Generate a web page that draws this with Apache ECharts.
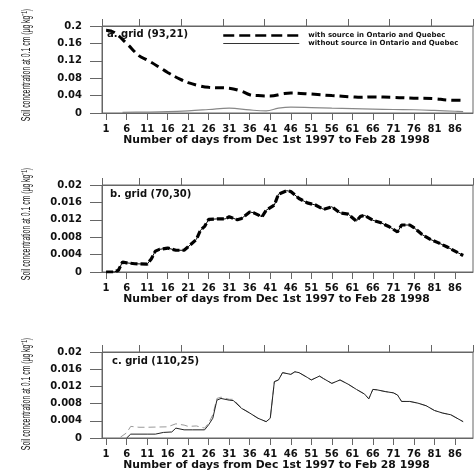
<!DOCTYPE html>
<html><head><meta charset="utf-8">
<script src="https://cdn.jsdelivr.net/npm/echarts@6/dist/echarts.min.js"></script>
<style>html,body{margin:0;padding:0;background:#fff}#c{width:474px;height:475px}</style>
</head><body><div id="c"></div><script>
// ---- data ----
const xTickDays = [1, 6, 11, 16, 21, 26, 31, 36, 41, 46, 51, 56, 61, 66, 71, 76, 81, 86];
const seriesNames = ['with source in Ontario and Quebec', 'without source in Ontario and Quebec'];
const panelTitles = ['a. grid (93,21)', 'b. grid (70,30)', 'c. grid (110,25)'];
const yAxisTitle = 'Soil concentration at 0.1 cm (µg kg⁻¹)';
const xAxisTitle = 'Number of days from Dec 1st 1997 to Feb 28 1998';
const yMaxes = [0.2, 0.02, 0.02];
const yIntervals = [0.04, 0.004, 0.004];

// panel a
const aDaysWith = [1, 3, 6, 9, 11, 14, 16, 19, 21, 24, 26, 31, 34, 36, 38, 41, 44, 46, 51, 56, 61, 63, 66, 71, 76, 81, 84, 88];
const aWith = [0.19, 0.185, 0.16, 0.132, 0.122, 0.105, 0.093, 0.078, 0.07, 0.062, 0.059, 0.057, 0.05, 0.042, 0.04, 0.039, 0.044, 0.046, 0.0435, 0.04, 0.037, 0.036, 0.037, 0.036, 0.034, 0.033, 0.03, 0.029];
const aDaysWithout = [5, 10, 16, 21, 26, 31, 36, 40, 43, 46, 51, 56, 61, 66, 71, 76, 81, 86, 88];
const aWithout = [0.0015, 0.002, 0.003, 0.005, 0.008, 0.0112, 0.007, 0.005, 0.011, 0.0135, 0.0125, 0.0112, 0.01, 0.009, 0.008, 0.0075, 0.006, 0.004, 0.003];

// panel b (both runs overlap)
const bDays = [1, 3, 4, 5, 6, 8, 11, 12, 13, 14, 16, 18, 20, 21, 23, 24, 25, 26, 28, 30, 31, 33, 34, 36, 37, 39, 40, 42, 43, 45, 46, 48, 50, 52, 54, 56, 58, 60, 62, 63, 64, 66, 68, 70, 72, 73, 75, 76, 78, 80, 82, 84, 86, 88];
const bValues = [0, 0, 0.0004, 0.0023, 0.0021, 0.0019, 0.0018, 0.003, 0.0048, 0.0052, 0.0055, 0.005, 0.005, 0.0058, 0.0075, 0.0096, 0.0105, 0.0121, 0.0122, 0.0122, 0.0127, 0.012, 0.0123, 0.0138, 0.0136, 0.0127, 0.0142, 0.0154, 0.0179, 0.0187, 0.0185, 0.0169, 0.0159, 0.0154, 0.0144, 0.015, 0.0136, 0.0133, 0.0117, 0.0128, 0.013, 0.0119, 0.0113, 0.0104, 0.0092, 0.0108, 0.0108, 0.0102, 0.0086, 0.0075, 0.0067, 0.0058, 0.0048, 0.0038];

// panel c
const cDaysWith = [4.5, 6, 7, 9, 11, 16, 18, 20, 21, 23, 25, 26, 27, 28, 29, 31, 32, 34, 36, 38, 40, 41, 42, 43, 44, 46, 47, 48, 50, 51, 53, 54, 56, 58, 60, 62, 64, 65, 66, 67, 69, 71, 72, 73, 75, 77, 79, 81, 83, 85, 88];
const cWith = [0.0002, 0.0012, 0.0027, 0.0025, 0.0025, 0.0026, 0.0033, 0.003, 0.0027, 0.0028, 0.0023, 0.0035, 0.0054, 0.0092, 0.0095, 0.009, 0.009, 0.007, 0.0058, 0.0046, 0.0038, 0.0046, 0.0131, 0.0135, 0.0152, 0.0148, 0.0154, 0.0152, 0.0141, 0.0135, 0.0144, 0.0138, 0.0127, 0.0135, 0.0125, 0.0113, 0.0102, 0.0091, 0.0113, 0.0112, 0.0108, 0.0105, 0.01, 0.0085, 0.0085, 0.0081, 0.0075, 0.0064, 0.0058, 0.0054, 0.0038];
const cDaysWithout = [6, 7, 11, 13, 15, 17, 18, 20, 22, 25, 26, 27, 28, 29, 31, 32, 34, 36, 38, 40, 41, 42, 43, 44, 46, 47, 48, 50, 51, 53, 54, 56, 58, 60, 62, 64, 65, 66, 67, 69, 71, 72, 73, 75, 77, 79, 81, 83, 85, 88];
const cWithout = [0, 0.0009, 0.0009, 0.0009, 0.0013, 0.0014, 0.0023, 0.0019, 0.0019, 0.0019, 0.0031, 0.0046, 0.0088, 0.0092, 0.0088, 0.0087, 0.0069, 0.0058, 0.0046, 0.0038, 0.0046, 0.0131, 0.0135, 0.0152, 0.0148, 0.0154, 0.0152, 0.0141, 0.0135, 0.0144, 0.0138, 0.0127, 0.0135, 0.0125, 0.0113, 0.0102, 0.0091, 0.0113, 0.0112, 0.0108, 0.0105, 0.01, 0.0085, 0.0085, 0.0081, 0.0075, 0.0064, 0.0058, 0.0054, 0.0038];

// ---- chart ----
const pairs = (d, v) => d.map((x, i) => [x, v[i]]);
const FONT = '"DejaVu Sans", "Liberation Sans", sans-serif';
const AX = '#666';
const gridTops = [26, 185, 352];
const gridHeights = [87, 87, 86];
const grids = gridTops.map((t, i) => ({
  left: 102, right: 1, top: t, height: gridHeights[i],
  show: true, borderColor: AX, borderWidth: 1, backgroundColor: 'transparent'
}));

const xAxes = [];
const yAxes = [];
for (let i = 0; i < 3; i++) {
  xAxes.push({
    type: 'value', gridIndex: i, min: 0, max: 90.4, position: 'bottom',
    axisLine: { show: true, onZero: false, lineStyle: { color: AX, width: 1 } },
    axisTick: { show: true, length: 7, lineStyle: { color: AX }, customValues: xTickDays },
    axisLabel: { customValues: xTickDays, margin: 11, color: '#111', fontFamily: FONT, fontWeight: 'bold', fontSize: 10 },
    splitLine: { show: false },
    name: xAxisTitle,
    nameLocation: 'middle', nameGap: 22,
    nameTextStyle: { color: '#111', fontFamily: FONT, fontWeight: 'bold', fontSize: 10.8, padding: [0, 22, 0, 0] }
  });
}
// decorative top axis: plain ticks, counted from the right-hand edge
for (let i = 0; i < 3; i++) {
  xAxes.push({
    type: 'value', gridIndex: i, min: 0, max: 8.9, interval: 1, inverse: true, position: 'top',
    axisLine: { show: true, onZero: false, lineStyle: { color: AX } },
    axisTick: { show: true, length: 7, lineStyle: { color: AX } },
    axisLabel: { show: false },
    splitLine: { show: false }
  });
}
for (let i = 0; i < 3; i++) {
  yAxes.push({
    type: 'value', gridIndex: i, min: 0, max: yMaxes[i], interval: yIntervals[i],
    axisLine: { show: true, onZero: false, lineStyle: { color: AX } },
    axisTick: { show: true, length: 12, lineStyle: { color: AX } },
    axisLabel: { margin: 20, color: '#111', fontFamily: FONT, fontWeight: 'bold', fontSize: 10 },
    splitLine: { show: false }
  });
}

const line = (name, xi, data, ls, extra) => Object.assign({
  name, type: 'line', xAxisIndex: xi, yAxisIndex: xi, data, color: ls.color,
  symbol: 'none', showSymbol: false, animation: false, lineStyle: ls, z: 3
}, extra || {});

const series = [
  line(seriesNames[1], 0, pairs(aDaysWithout, aWithout), { color: '#888', width: 1.2 }, { smooth: 0.4 }),
  line(seriesNames[0], 0, pairs(aDaysWith, aWith), { color: '#000', width: 3, type: [9, 5] }, { smooth: 0.4 }),
  line('b ' + seriesNames[1], 1, pairs(bDays, bValues), { color: '#000', width: 1 }),
  line('b ' + seriesNames[0], 1, pairs(bDays, bValues), { color: '#000', width: 3.2, type: [7, 3] }),
  line('c ' + seriesNames[0], 2, pairs(cDaysWith, cWith), { color: '#999', width: 1, type: [7, 4] }),
  line('c ' + seriesNames[1], 2, pairs(cDaysWithout, cWithout), { color: '#222', width: 1 })
];

const titles = panelTitles.map((t, i) => ({
  text: t, left: [107, 110, 112][i], top: [29, 189, 356][i], padding: 0,
  textStyle: { color: '#111', fontFamily: FONT, fontWeight: 'bold', fontSize: 10 }
}));

const yNameCenters = [65, 224, 394];
const graphics = yNameCenters.map(cy => ({
  type: 'text', x: 27, y: cy, rotation: Math.PI / 2, scaleX: 0.57, scaleY: 1,
  silent: true,
  style: {
    text: yAxisTitle, fill: '#111', align: 'center', verticalAlign: 'middle',
    font: '12px "Liberation Sans", Arial, sans-serif'
  }
}));

const chart = echarts.init(document.getElementById('c'), null, { renderer: 'canvas' });
chart.setOption({
  animation: false,
  backgroundColor: '#fff',
  title: titles,
  grid: grids,
  xAxis: xAxes,
  yAxis: yAxes,
  graphic: graphics,
  legend: {
    orient: 'vertical', left: 222, top: 32, padding: 0, itemGap: 1,
    itemWidth: 76, itemHeight: 7,
    itemStyle: { opacity: 0 },
    textStyle: { color: '#111', fontFamily: FONT, fontWeight: 'bold', fontSize: 7, padding: [0, 0, 0, 4] },
    data: [
      { name: seriesNames[0], lineStyle: { type: [11, 5], width: 2.5 } },
      { name: seriesNames[1], lineStyle: { color: '#333', width: 1 } }
    ]
  },
  series
});
</script></body></html>
